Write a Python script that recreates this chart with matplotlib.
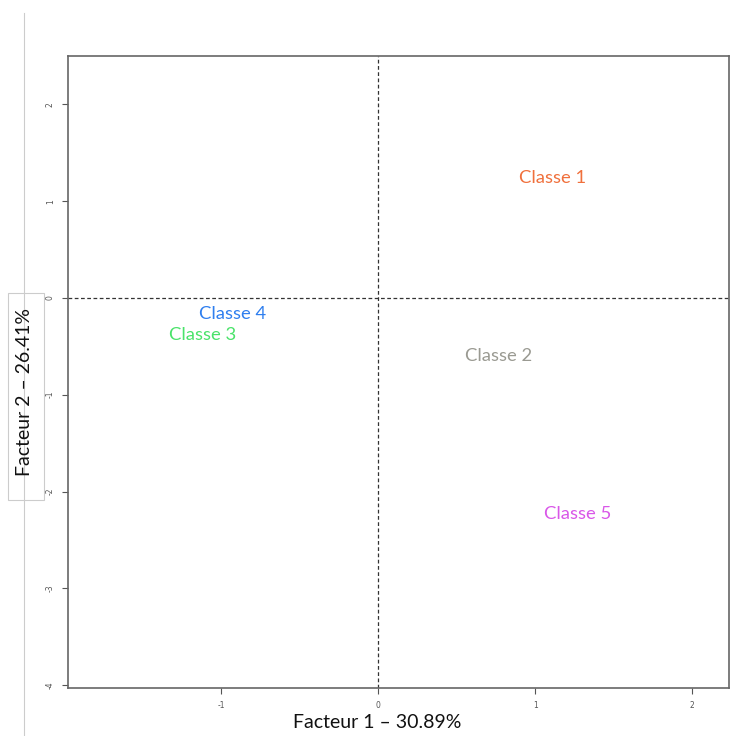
import matplotlib
matplotlib.use("Agg")
import matplotlib.pyplot as plt
from matplotlib.patches import Rectangle
from matplotlib.lines import Line2D

classes = ["Classe 1", "Classe 2", "Classe 3", "Classe 4", "Classe 5"]
f1 = [1.11, 0.77, -1.12, -0.93, 1.27]
f2 = [1.24, -0.60, -0.38, -0.165, -2.23]
colors = ["#F0703C", "#9A9A92", "#4AE36A", "#2F7FEF", "#D957E8"]
xticks = [-1, 0, 1, 2]
yticks = [2, 1, 0, -1, -2, -3, -4]
xlabel = "Facteur 1 – 30.89%"
ylabel = "Facteur 2 – 26.41%"

plt.rcParams['font.family'] = ['Lato', 'DejaVu Sans']

W, H = 741, 736
fig = plt.figure(figsize=(W/100, H/100), dpi=100)
ax = fig.add_axes([68/W, 1-688/H, (729-68)/W, (688-56)/H])
ax.set_xlim(-1.975, 2.235)
ax.set_ylim(-4.03, 2.50)

ax.axhline(0, color="#333333", lw=0.9, ls=(0, (3, 2)))
ax.axvline(0, color="#333333", lw=0.9, ls=(0, (3, 2)))

for name, x, y, c in zip(classes, f1, f2, colors):
    ax.text(x, y, name, color=c, fontsize=13.3, ha="center", va="center")

ax.set_xticks(xticks)
ax.set_yticks(yticks)
ax.set_xticklabels([str(t) for t in xticks], fontsize=5.5, color="#555555",
                   family="DejaVu Sans")
ax.set_yticklabels([str(t) for t in yticks], fontsize=5.5, color="#555555",
                   rotation=90, va="center", family="DejaVu Sans")
ax.tick_params(length=4.5, width=0.8, color="#555555", pad=5)
for s in ax.spines.values():
    s.set_color("#666666")
    s.set_linewidth(1.2)

# x-axis title
fig.text((293+461)/2/W, 1-722/H, xlabel, fontsize=14, ha="center", va="center",
         color="#111111")

# thin grey vertical guide line on the left
fig.add_artist(Line2D([24/W, 24/W], [1-13/H, 0], color="#cccccc", lw=0.8))
# boxed y-axis title
fig.add_artist(Rectangle((8/W, 1-500/H), 36/W, 207/H, transform=fig.transFigure,
                         facecolor="white", edgecolor="#cccccc", lw=0.8))
fig.text(25/W, 1-392/H, ylabel, fontsize=14, rotation=90, ha="center",
         va="center", color="#111111")

fig.savefig("out.png", dpi=100)
